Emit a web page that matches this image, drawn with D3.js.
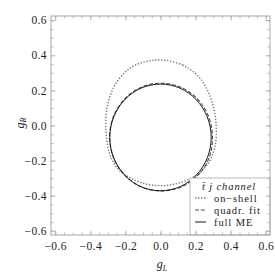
<!DOCTYPE html>
<html>
<head>
<meta charset="utf-8">
<script src="https://cdn.jsdelivr.net/npm/d3@7"></script>
<style>
  body { margin: 0; background: #fff; }
  svg { display: block; }
  svg text { font-family: "Liberation Serif", "Times New Roman", Times, serif; }
</style>
</head>
<body>
<div id="chart"></div>
<script>
"use strict";

// ticks
var majorTicks = [-0.6, -0.4, -0.2, 0.0, 0.2, 0.4, 0.6];
var minorTicks = [-0.6, -0.55, -0.5, -0.45, -0.4, -0.35, -0.3, -0.25, -0.2, -0.15, -0.1, -0.05,
  0, 0.05, 0.1, 0.15, 0.2, 0.25, 0.3, 0.35, 0.4, 0.45, 0.5, 0.55, 0.6];

// contours, [gL, gR]
var onShell = [
  [0.005, 0.373], [0.125, 0.345], [0.225, 0.27], [0.29, 0.145], [0.316, 0.016],
  [0.312, -0.11], [0.272, -0.215], [0.19, -0.293], [0.06, -0.338], [-0.06, -0.338],
  [-0.16, -0.305], [-0.24, -0.25], [-0.29, -0.16], [-0.31, -0.04], [-0.305, 0.1],
  [-0.26, 0.23], [-0.17, 0.33], [-0.08, 0.365]
];
var quadrFit = [
  [0.296, -0.066], [0.274, 0.051], [0.21, 0.151], [0.115, 0.218], [0.003, 0.241],
  [-0.109, 0.218], [-0.204, 0.151], [-0.268, 0.051], [-0.29, -0.066], [-0.268, -0.183],
  [-0.204, -0.283], [-0.109, -0.35], [0.003, -0.373], [0.117, -0.35], [0.214, -0.283],
  [0.277, -0.183]
];
var fullME = [
  [0.289, -0.068], [0.267, 0.048], [0.204, 0.147], [0.111, 0.213], [0.0, 0.236],
  [-0.111, 0.213], [-0.204, 0.147], [-0.267, 0.048], [-0.289, -0.068], [-0.267, -0.184],
  [-0.204, -0.283], [-0.111, -0.349], [0.0, -0.372], [0.111, -0.349], [0.204, -0.283],
  [0.267, -0.184]
];

var legendNames = ["on\u2212shell", "quadr. fit", "full ME"];

var W = 275, H = 275;
var fL = 51, fR = 270, fT = 16, fB = 235;
var dom = [-0.624, 0.624];

var x = d3.scaleLinear().domain(dom).range([fL, fR]);
var y = d3.scaleLinear().domain(dom).range([fB, fT]);

var svg = d3.select("#chart").append("svg")
  .attr("width", W)
  .attr("height", H);

var frameColor = "#a8a8a8";
var textColor = "#222";

svg.append("defs").append("clipPath").attr("id", "clip")
  .append("rect")
  .attr("x", fL).attr("y", fT)
  .attr("width", fR - fL).attr("height", fB - fT);

// curves
var line = d3.line()
  .x(function(d) { return x(d[0]); })
  .y(function(d) { return y(d[1]); })
  .curve(d3.curveCatmullRomClosed.alpha(0.5));

var plot = svg.append("g").attr("clip-path", "url(#clip)");

var series = [
  { data: onShell, color: "#7a7a7a", dash: "1.4,1.6", width: 1.4 },
  { data: quadrFit, color: "#4a4a4a", dash: "4,1.8", width: 1.1 },
  { data: fullME, color: "#1a1a1a", dash: null, width: 1.0 }
];

series.forEach(function(s) {
  plot.append("path")
    .attr("d", line(s.data))
    .attr("fill", "none")
    .attr("stroke", s.color)
    .attr("stroke-width", s.width)
    .attr("stroke-dasharray", s.dash);
});

// legend box (drawn over the curves)
var lg = svg.append("g");
var lgX = 190, lgY = 178;
lg.append("rect")
  .attr("x", lgX).attr("y", lgY)
  .attr("width", fR - lgX).attr("height", fB - lgY)
  .attr("fill", "#fff")
  .attr("stroke", frameColor)
  .attr("stroke-width", 0.8);

lg.append("text")
  .attr("x", 229).attr("y", 190)
  .attr("text-anchor", "middle")
  .style("font-size", "10.5px")
  .style("font-style", "italic")
  .style("letter-spacing", "0.9px")
  .attr("fill", textColor)
  .text("t\u0304 j channel");

legendNames.forEach(function(name, i) {
  var ly = 198 + i * 12;
  var s = series[i];
  lg.append("line")
    .attr("x1", 195).attr("x2", 206)
    .attr("y1", ly).attr("y2", ly)
    .attr("stroke", s.color)
    .attr("stroke-width", s.width)
    .attr("stroke-dasharray", s.dash);
  lg.append("text")
    .attr("x", 214).attr("y", ly + 3.5)
    .style("font-size", "10.5px")
    .style("letter-spacing", "0.9px")
    .attr("fill", textColor)
    .text(name);
});

// frame
svg.append("rect")
  .attr("x", fL).attr("y", fT)
  .attr("width", fR - fL).attr("height", fB - fT)
  .attr("fill", "none")
  .attr("stroke", frameColor)
  .attr("stroke-width", 1);

function fmt(d) {
  return (d < 0 ? "\u2212" : "") + Math.abs(d).toFixed(1);
}

function styleAxis(g) {
  g.attr("font-family", null);
  g.select(".domain").remove();
  g.selectAll(".tick line").attr("stroke", frameColor).attr("stroke-width", 0.8);
  g.selectAll(".tick text")
    .style("font-size", "11.5px")
    .style("letter-spacing", "0.4px")
    .attr("fill", textColor);
}

// minor and major ticks, all four sides, pointing inward
[
  [function() { return d3.axisBottom(x); }, "translate(0," + fB + ")"],
  [function() { return d3.axisTop(x); }, "translate(0," + fT + ")"],
  [function() { return d3.axisLeft(y); }, "translate(" + fL + ",0)"],
  [function() { return d3.axisRight(y); }, "translate(" + fR + ",0)"]
].forEach(function(a) {
  svg.append("g")
    .attr("transform", a[1])
    .call(a[0]().tickValues(minorTicks).tickSize(-2.5).tickFormat(""))
    .call(styleAxis);
  svg.append("g")
    .attr("transform", a[1])
    .call(a[0]().tickValues(majorTicks).tickSize(-4.5).tickFormat(""))
    .call(styleAxis);
});

// labelled axes
svg.append("g")
  .attr("transform", "translate(0," + fB + ")")
  .call(d3.axisBottom(x).tickValues(majorTicks).tickSize(0).tickPadding(7).tickFormat(fmt))
  .call(styleAxis);

svg.append("g")
  .attr("transform", "translate(" + fL + ",0)")
  .call(d3.axisLeft(y).tickValues(majorTicks).tickSize(0).tickPadding(4).tickFormat(fmt))
  .call(styleAxis);

// axis titles
var xl = svg.append("text")
  .attr("x", 162).attr("y", 268)
  .attr("text-anchor", "middle")
  .style("font-size", "12px")
  .style("font-style", "italic")
  .attr("fill", textColor);
xl.append("tspan").text("g");
xl.append("tspan").style("font-size", "8px").attr("dy", 2.5).text("L");

var yl = svg.append("text")
  .attr("transform", "translate(23.5,123) rotate(-90)")
  .attr("text-anchor", "middle")
  .style("font-size", "12px")
  .style("font-style", "italic")
  .attr("fill", textColor);
yl.append("tspan").text("g");
yl.append("tspan").style("font-size", "8px").attr("dy", 2.5).text("R");
</script>
</body>
</html>
